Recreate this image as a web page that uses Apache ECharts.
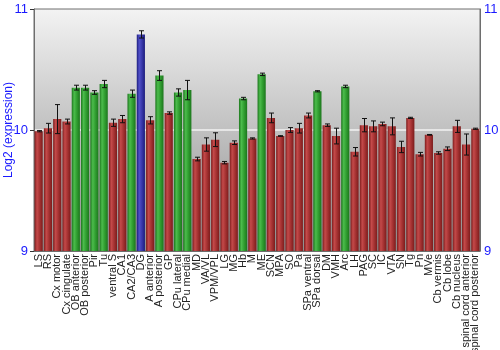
<!DOCTYPE html>
<html>
<head>
<meta charset="utf-8">
<script src="https://cdn.jsdelivr.net/npm/echarts@6/dist/echarts.min.js"></script>
<style>
  html, body { margin: 0; padding: 0; background: #fff; }
  #chart { width: 500px; height: 350px; }
</style>
</head>
<body>
<div id="chart"></div>
<script>
// Brain regions along the x axis
const regions = [
  'LS', 'RS', 'Cx motor', 'Cx cingulate', 'OB anterior', 'OB posterior', 'Pir', 'Tu',
  'ventral S', 'CA1', 'CA2/CA3', 'DG', 'A anterior', 'A posterior', 'GP', 'CPu lateral',
  'CPu medial', 'MD', 'VA/VL', 'VPM/VPL', 'LG', 'MG', 'Hb', 'M', 'ME', 'SCN', 'MPA', 'SO',
  'Pa', 'SPa ventral', 'SPa dorsal', 'DM', 'VMH', 'Arc', 'LH', 'PAG', 'SC', 'IC', 'VTA',
  'SN', 'Tg', 'Pn', 'MVe', 'Cb vermis', 'Cb lobe', 'Cb nucleus', 'spinal cord anterior',
  'spinal cord posterior'
];

// Mean log2 expression per region
const expression = [
  9.99, 10.015, 10.09, 10.07, 10.35, 10.35, 10.31, 10.38,
  10.06, 10.09, 10.30, 10.79, 10.08, 10.45, 10.14, 10.31,
  10.33, 9.76, 9.88, 9.92, 9.73, 9.895, 10.26, 9.93, 10.46, 10.10, 9.95, 10.00,
  10.015, 10.12, 10.32, 10.04, 9.95, 10.36, 9.82, 10.04, 10.03, 10.05, 10.03,
  9.86, 10.10, 9.80, 9.96, 9.81, 9.845, 10.03, 9.88,
  10.01
];

// Standard error per region
const stdErr = [
  0.005, 0.04, 0.12, 0.02, 0.02, 0.02, 0.015, 0.03,
  0.03, 0.03, 0.03, 0.03, 0.03, 0.04, 0.01, 0.03,
  0.08, 0.015, 0.055, 0.057, 0.01, 0.015, 0.01, 0.005, 0.01, 0.04, 0.003, 0.02,
  0.04, 0.02, 0.005, 0.01, 0.065, 0.01, 0.035, 0.055, 0.045, 0.015, 0.07,
  0.047, 0.005, 0.015, 0.003, 0.01, 0.015, 0.05, 0.087,
  0.005
];

// Expression class of each region: r = baseline, g = enriched, b = highest
const classes = [
  'r', 'r', 'r', 'r', 'g', 'g', 'g', 'g',
  'r', 'r', 'g', 'b', 'r', 'g', 'r', 'g',
  'g', 'r', 'r', 'r', 'r', 'r', 'g', 'r', 'g', 'r', 'r', 'r',
  'r', 'r', 'g', 'r', 'r', 'g', 'r', 'r', 'r', 'r', 'r',
  'r', 'r', 'r', 'r', 'r', 'r', 'r', 'r',
  'r'
];

const yTicks = [9, 10, 11];

// Cylinder-like horizontal shading for each bar colour
function shade(dark, light, mid) {
  return new echarts.graphic.LinearGradient(0, 0, 1, 0, [
    { offset: 0, color: dark },
    { offset: 0.3, color: light },
    { offset: 0.6, color: mid },
    { offset: 1, color: dark }
  ]);
}
const palette = {
  r: shade('#7c1c1c', '#c44a4a', '#a83434'),
  g: shade('#1c761c', '#4cbc4c', '#32a032'),
  b: shade('#1c1c7c', '#5050c8', '#3a3aae')
};

const barData = expression.map((v, i) => ({
  value: v,
  itemStyle: { color: palette[classes[i]] }
}));

const errData = expression.map((v, i) => [i, v - stdErr[i], v + stdErr[i]]);

const blue = '#1a1aff';
const font = 'Liberation Sans, Arial, sans-serif';

const chart = echarts.init(document.getElementById('chart'), null, { renderer: 'canvas' });

chart.setOption({
  animation: false,
  grid: {
    left: 34, right: 20, top: 9, bottom: 99,
    outerBoundsMode: 'none',
    containLabel: false,
    show: true,
    borderColor: '#6e6e6e',
    borderWidth: 1,
    backgroundColor: new echarts.graphic.LinearGradient(0, 0, 0, 1, [
      { offset: 0, color: '#f3f3f3' },
      { offset: 1, color: '#8e8e8e' }
    ])
  },
  xAxis: {
    type: 'category',
    data: regions,
    axisTick: { show: false },
    axisLine: { show: true, lineStyle: { color: '#6e6e6e' } },
    axisLabel: {
      interval: 0,
      rotate: 90,
      hideOverlap: false,
      fontFamily: font,
      fontSize: 11,
      color: '#222',
      margin: 3
    }
  },
  yAxis: [
    {
      type: 'value',
      min: yTicks[0], max: yTicks[2], interval: 1,
      name: 'Log2 (expression)',
      nameLocation: 'middle',
      nameGap: 19,
      nameMoveOverlap: false,
      nameTextStyle: { color: blue, fontSize: 12, fontFamily: font },
      axisLine: { show: true, lineStyle: { color: '#6e6e6e' } },
      axisTick: { show: true, length: 4, lineStyle: { color: '#333' } },
      axisLabel: { color: blue, fontSize: 13, margin: 6, fontFamily: font },
      splitLine: { show: true, lineStyle: { color: ['rgba(0,0,0,0)', '#f2f2f2', 'rgba(0,0,0,0)'], width: 1.5 } }
    },
    {
      type: 'value',
      position: 'right',
      min: yTicks[0], max: yTicks[2], interval: 1,
      axisLine: { show: true, lineStyle: { color: '#6e6e6e' } },
      axisTick: { show: false },
      axisLabel: { color: blue, fontSize: 13, margin: 4, fontFamily: font },
      splitLine: { show: false }
    }
  ],
  series: [
    {
      type: 'bar',
      data: barData,
      barWidth: '88%',
      z: 2
    },
    {
      type: 'custom',
      z: 3,
      data: errData,
      renderItem: function (params, api) {
        const lo = api.coord([api.value(0), api.value(1)]);
        const hi = api.coord([api.value(0), api.value(2)]);
        const cx = Math.round(lo[0]) + 0.5;
        const half = 2.5;
        const style = { stroke: '#111', lineWidth: 1 };
        return {
          type: 'group',
          children: [
            { type: 'line', shape: { x1: cx, y1: lo[1], x2: cx, y2: hi[1] }, style: style },
            { type: 'line', shape: { x1: cx - half, y1: lo[1], x2: cx + half, y2: lo[1] }, style: style },
            { type: 'line', shape: { x1: cx - half, y1: hi[1], x2: cx + half, y2: hi[1] }, style: style }
          ]
        };
      }
    }
  ]
});
</script>
</body>
</html>
